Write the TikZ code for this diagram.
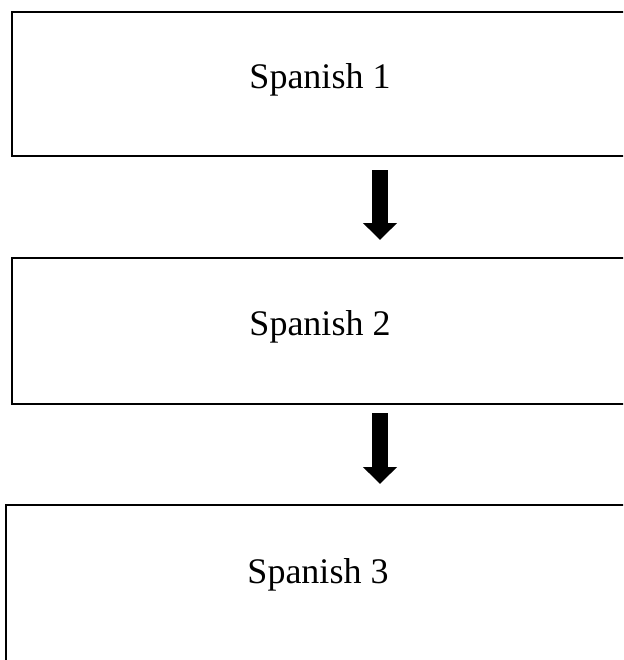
\documentclass[tikz,border=0pt]{standalone}
\usepackage{fontspec}
\setmainfont{Liberation Serif}
\usetikzlibrary{arrows.meta}

\begin{document}
\begin{tikzpicture}[x=0.5pt,y=-0.5pt,
  box/.style={draw=black, line width=1pt, inner sep=0pt, outer sep=0pt, font=\fontsize{18}{22}\selectfont, text height=12pt, text depth=8pt},
  down/.style={line width=8pt, -{Triangle[width=16.5pt,length=8.5pt]}}]
\clip (0,0) rectangle (623,660);

\node[box, minimum width=308pt, minimum height=72pt] (sp1) at (320,84) {Spanish 1};
\node[box, minimum width=308pt, minimum height=73pt] (sp2) at (320,331) {Spanish 2};
\node[box, minimum width=312pt, minimum height=90pt, text depth=24pt] (sp3) at (318,595) {Spanish 3};

\draw[down, shorten <=7pt, shorten >=9pt] ([xshift=30pt]sp1.south) -- ([xshift=30pt]sp2.north);
\draw[down, shorten <=4.5pt, shorten >=10.5pt] ([xshift=30pt]sp2.south) -- ([xshift=31pt]sp3.north);
\end{tikzpicture}
\end{document}
